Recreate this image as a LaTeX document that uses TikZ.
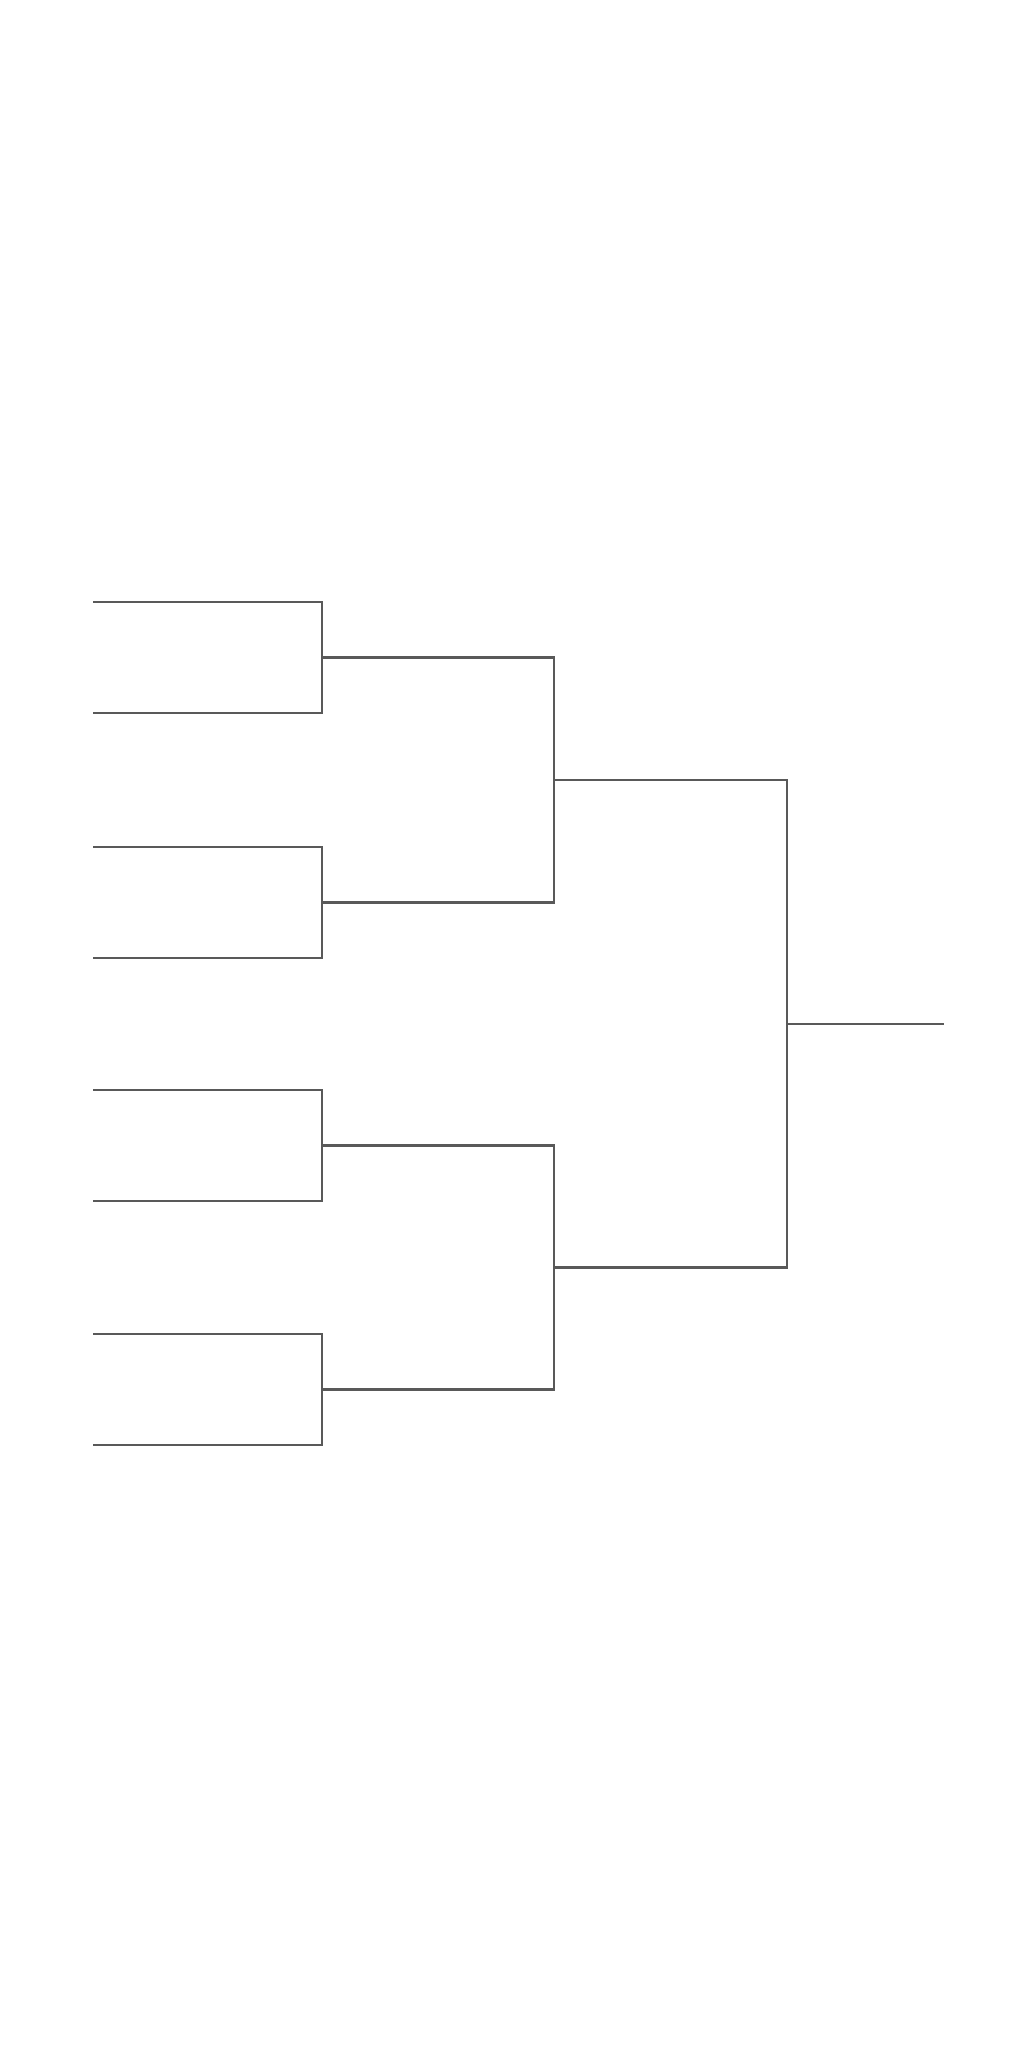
\documentclass[tikz,border=0pt]{standalone}
\begin{document}
\begin{tikzpicture}[x=1pt,y=-1pt,
  bline/.style={draw=black!65,line width=2.2pt,line cap=rect,line join=miter}]
\useasboundingbox (0,0) rectangle (1035,2048);
% round 1 entries
\coordinate (a1) at (94,602);  \coordinate (a2) at (94,713);
\coordinate (a3) at (94,847);  \coordinate (a4) at (94,958);
\coordinate (a5) at (94,1090); \coordinate (a6) at (94,1201);
\coordinate (a7) at (94,1334); \coordinate (a8) at (94,1445);
% round 1 joins
\coordinate (b1) at (322,657.5);
\coordinate (b2) at (322,902.5);
\coordinate (b3) at (322,1145.5);
\coordinate (b4) at (322,1389.5);
% round 2 joins
\coordinate (c1) at (554,780);
\coordinate (c2) at (554,1267.5);
% final
\coordinate (d1) at (787,1024);
\coordinate (e1) at (943,1024);
% round 1 brackets
\draw[bline] (a1) -| (b1) |- (a2);
\draw[bline] (a3) -| (b2) |- (a4);
\draw[bline] (a5) -| (b3) |- (a6);
\draw[bline] (a7) -| (b4) |- (a8);
% round 2 brackets
\draw[bline] (b1) -| (c1) |- (b2);
\draw[bline] (b3) -| (c2) |- (b4);
% round 3
\draw[bline] (c1) -| (d1) |- (c2);
\draw[bline] (d1) -- (e1);
\end{tikzpicture}
\end{document}
